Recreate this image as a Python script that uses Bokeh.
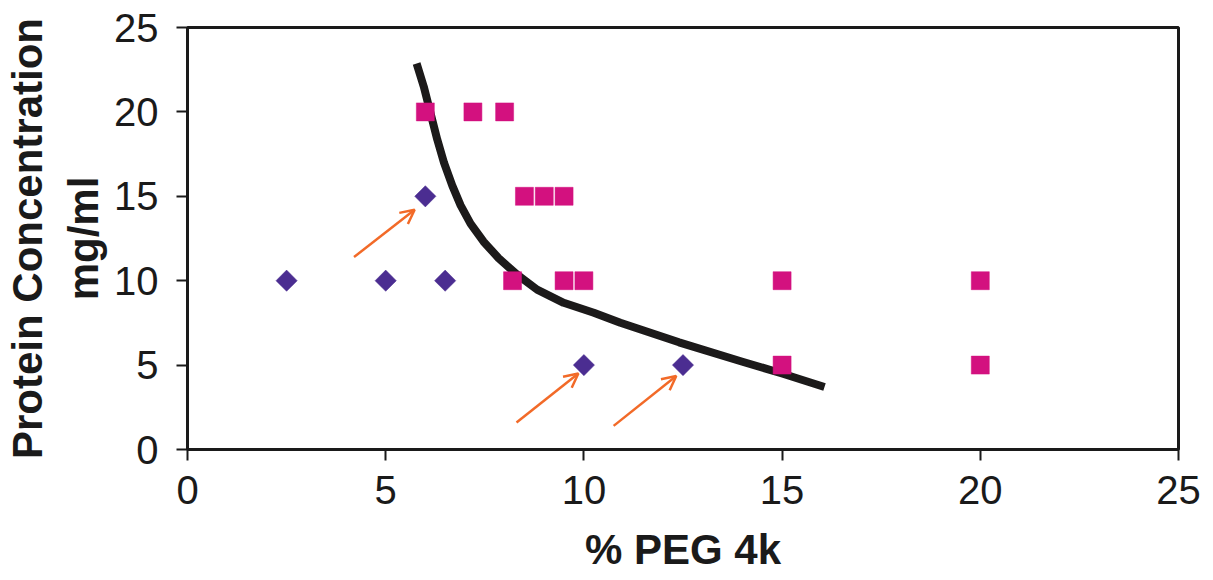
from bokeh.plotting import figure
from bokeh.models import ColumnDataSource, Arrow, OpenHead, Range1d, FixedTicker
from bokeh.embed import file_html
from bokeh.resources import INLINE
import numpy as np

# Data
soluble_x = [2.5, 5.0, 6.5, 6.0, 10.0, 12.5]
soluble_y = [10, 10, 10, 15, 5, 5]

precip_x = [6.0, 7.2, 8.0, 8.5, 9.0, 9.5, 8.2, 9.5, 10.0, 15.0, 20.0, 15.0, 20.0]
precip_y = [20, 20, 20, 15, 15, 15, 10, 10, 10, 10, 10, 5, 5]

curve_x = [5.78, 5.96, 6.13, 6.30, 6.47, 6.68, 6.89, 7.14, 7.47, 7.85, 8.32, 8.82,
           9.49, 10.25, 10.92, 12.4, 14.0, 15.0, 16.07]
curve_y = [22.87, 21.5, 19.93, 18.37, 17.0, 15.63, 14.46, 13.38, 12.31, 11.33, 10.35, 9.47,
           8.69, 8.10, 7.51, 6.35, 5.2, 4.5, 3.7]

arrow_x0 = [4.2, 8.3, 10.75]
arrow_y0 = [11.4, 1.6, 1.4]
arrow_x1 = [5.73, 9.86, 12.33]
arrow_y1 = [14.2, 4.5, 4.35]

x_ticks = [0, 5, 10, 15, 20, 25]
y_ticks = [0, 5, 10, 15, 20, 25]

PURPLE = "#4B2D91"
MAGENTA = "#D3117F"
ORANGE = "#F26A28"

p = figure(width=1205, height=575, output_backend="svg", toolbar_location=None,
           x_range=Range1d(0, 25), y_range=Range1d(0, 25),
           min_border_left=187, min_border_right=27, min_border_top=27, min_border_bottom=122)

p.background_fill_color = "white"
p.border_fill_color = "white"
p.outline_line_color = "#1a1a1a"
p.outline_line_width = 3
p.grid.visible = False

p.line(curve_x, curve_y, line_color="#1c1a1a", line_width=8, line_cap="butt", line_join="round")

p.scatter(precip_x, precip_y, marker="square", size=18, fill_color=MAGENTA, line_color=MAGENTA, line_width=0.5)
p.scatter(soluble_x, soluble_y, marker="square", size=15, angle=np.pi / 4,
          fill_color=PURPLE, line_color=PURPLE, line_width=0.5)

arrow_src = ColumnDataSource(dict(x0=arrow_x0, y0=arrow_y0, x1=arrow_x1, y1=arrow_y1))
p.add_layout(Arrow(end=OpenHead(size=14, line_color=ORANGE, line_width=2.5),
                   x_start="x0", y_start="y0", x_end="x1", y_end="y1",
                   line_color=ORANGE, line_width=2.5, source=arrow_src))

for ax in (p.xaxis[0], p.yaxis[0]):
    ax.axis_line_color = "#1a1a1a"
    ax.axis_line_width = 3
    ax.major_tick_line_color = "#1a1a1a"
    ax.major_tick_line_width = 2
    ax.major_tick_in = 0
    ax.major_tick_out = 11
    ax.minor_tick_line_color = None
    ax.major_label_text_font = "Liberation Sans"
    ax.major_label_text_font_size = "40px"
    ax.major_label_text_color = "#1a1a1a"
    ax.axis_label_text_font = "Liberation Sans"
    ax.axis_label_text_font_style = "bold"
    ax.axis_label_text_color = "#1a1a1a"

p.xaxis.ticker = FixedTicker(ticks=x_ticks)
p.yaxis.ticker = FixedTicker(ticks=y_ticks)
p.xaxis.major_label_standoff = 15
p.yaxis.major_label_standoff = 18
p.xaxis.axis_label = "% PEG 4k"
p.xaxis.axis_label_text_font_size = "42px"
p.xaxis.axis_label_standoff = 19
p.yaxis.axis_label = "Protein Concentration\nmg/ml"
p.yaxis.axis_label_text_font_size = "42px"
p.yaxis.axis_label_standoff = 4
p.yaxis.axis_label_text_line_height = 1.2

open("out.html", "w").write(file_html(p, INLINE))
